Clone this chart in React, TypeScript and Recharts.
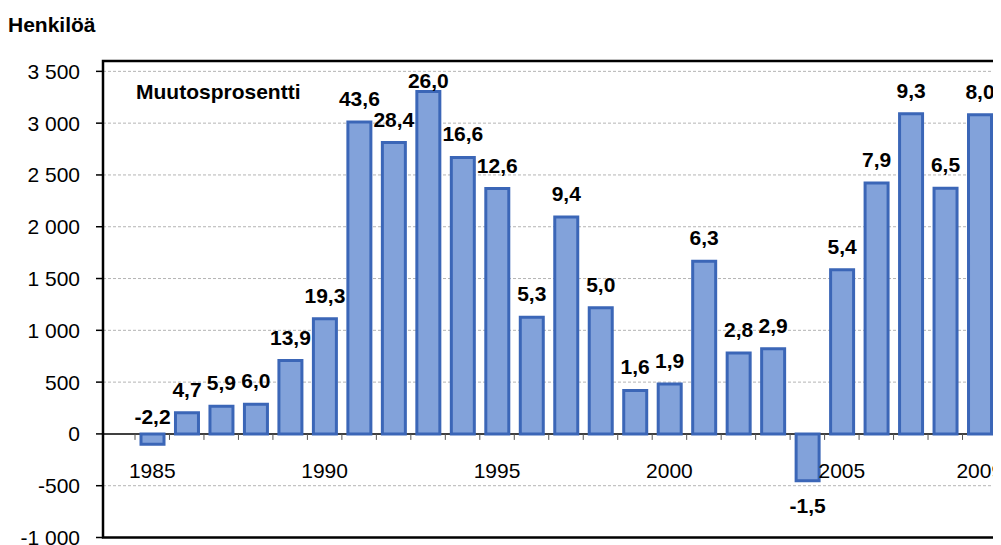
import { Bar, BarChart, CartesianGrid, LabelList, XAxis, YAxis } from "recharts";

// vuosittainen muutos, henkilöä + muutosprosentti
const years = [
  "1985", "1986", "1987", "1988", "1989", "1990", "1991", "1992", "1993", "1994",
  "1995", "1996", "1997", "1998", "1999", "2000", "2001", "2002", "2003", "2004",
  "2005", "2006", "2007", "2008", "2009",
];
const persons = [
  -100, 205, 268, 287, 708, 1111, 3010, 2813, 3306, 2669,
  2369, 1126, 2093, 1218, 420, 482, 1668, 780, 822, -452,
  1585, 2422, 3091, 2372, 3081,
];
const pctLabels = [
  "-2,2", "4,7", "5,9", "6,0", "13,9", "19,3", "43,6", "28,4", "26,0", "16,6",
  "12,6", "5,3", "9,4", "5,0", "1,6", "1,9", "6,3", "2,8", "2,9", "-1,5",
  "5,4", "7,9", "9,3", "6,5", "8,0",
];
const labeledYears = ["1985", "1990", "1995", "2000", "2005", "2009"];
const yTicks = [-1000, -500, 0, 500, 1000, 1500, 2000, 2500, 3000, 3500];
const gridValues = [-500, 500, 1000, 1500, 2000, 2500, 3000, 3500];

const data = years.map((year, i) => ({ year, persons: persons[i], pct: pctLabels[i] }));

const W = 993;
const H = 537;
const Y_MIN = -1000;
const Y_MAX = 3600;
const MARGIN = { top: 53, right: 4, bottom: 0, left: 0 };
const XAXIS_H = 7.5;
const YAXIS_W = 95;
const PAD_LEFT = 32;
const PLOT_LEFT = MARGIN.left + YAXIS_W;
const PLOT_W = W - MARGIN.left - MARGIN.right - YAXIS_W;
const PLOT_H = H - MARGIN.top - MARGIN.bottom - XAXIS_H;
const BAND = (PLOT_W - PAD_LEFT) / years.length;
const ZERO_Y = MARGIN.top + ((Y_MAX - 0) / (Y_MAX - Y_MIN)) * PLOT_H;

const FONT = "'Liberation Sans', Arial, sans-serif";
const FS = 21;

const fmt = (v: number) => {
  const s = Math.abs(v).toString().replace(/\B(?=(\d{3})+(?!\d))/g, " ");
  return (v < 0 ? "-" : "") + s;
};

const XTick = (props: any) => {
  const { x, payload } = props;
  const tx = x - BAND / 2;
  return (
    <g>
      <line x1={tx} x2={tx} y1={ZERO_Y} y2={ZERO_Y + 6} stroke="#555" strokeWidth={1} />
      {labeledYears.includes(payload.value) && (
        <text x={x} y={ZERO_Y + 44} textAnchor="middle" fontSize={FS} fontFamily={FONT} fill="#000">
          {payload.value}
        </text>
      )}
    </g>
  );
};

const PctLabel = (props: any) => {
  const vb = props.viewBox ?? {};
  const x = Number(props.x ?? vb.x);
  const y = Number(props.y ?? vb.y);
  const w = Number(props.width ?? vb.width);
  const h = Number(props.height ?? vb.height);
  const idx = props.index;
  const top = Math.min(y, y + h);
  const bottom = Math.max(y, y + h);
  const cx = x + w / 2;
  let baseline: number;
  if (persons[idx] >= 0) {
    baseline = Math.max(top - 16, MARGIN.top + 27);
  } else if (bottom - top < 25) {
    baseline = top - 10;
  } else {
    baseline = bottom + 32;
  }
  return (
    <text x={cx} y={baseline} textAnchor="middle" fontSize={FS} fontWeight="bold" fontFamily={FONT} fill="#000">
      {pctLabels[idx]}
    </text>
  );
};

export default function App() {
  return (
    <div style={{ position: "relative", width: W, height: H, fontFamily: FONT }}>
      <BarChart width={W} height={H} data={data} margin={MARGIN} barSize={23}>
        <CartesianGrid
          vertical={false}
          horizontalValues={gridValues}
          stroke="#b4b4b4"
          strokeDasharray="3 2"
        />
        <CartesianGrid vertical={false} horizontalValues={[0]} stroke="#000" strokeWidth={1.5} />
        <XAxis
          dataKey="year"
          height={XAXIS_H}
          interval={0}
          axisLine={false}
          tickLine={false}
          padding={{ left: PAD_LEFT, right: 0 }}
          tick={<XTick />}
        />
        <YAxis
          width={YAXIS_W}
          domain={[Y_MIN, Y_MAX]}
          ticks={yTicks}
          interval={0}
          allowDataOverflow
          axisLine={false}
          tickLine={{ stroke: "#000", strokeWidth: 1.5 }}
          tickSize={7}
          tickMargin={16}
          tickFormatter={fmt}
          tick={{ fontSize: FS, fill: "#000", fontFamily: FONT }}
        />
        <Bar dataKey="persons" fill="#82a2da" stroke="#3b66b7" strokeWidth={3} isAnimationActive={false}>
          <LabelList dataKey="pct" content={<PctLabel />} />
        </Bar>
      </BarChart>
      <svg
        width={W}
        height={H + 8}
        style={{ position: "absolute", left: 0, top: 0, pointerEvents: "none" }}
      >
        <rect x={PLOT_LEFT} y={MARGIN.top} width={PLOT_W} height={PLOT_H} fill="none" stroke="#000" strokeWidth={2.5} />
        <text x={0} y={23.7} fontSize={FS} fontWeight="bold" fontFamily={FONT} fill="#000">
          Henkilöä
        </text>
        <text x={128} y={91} fontSize={FS} fontWeight="bold" fontFamily={FONT} fill="#000">
          Muutosprosentti
        </text>
      </svg>
    </div>
  );
}
